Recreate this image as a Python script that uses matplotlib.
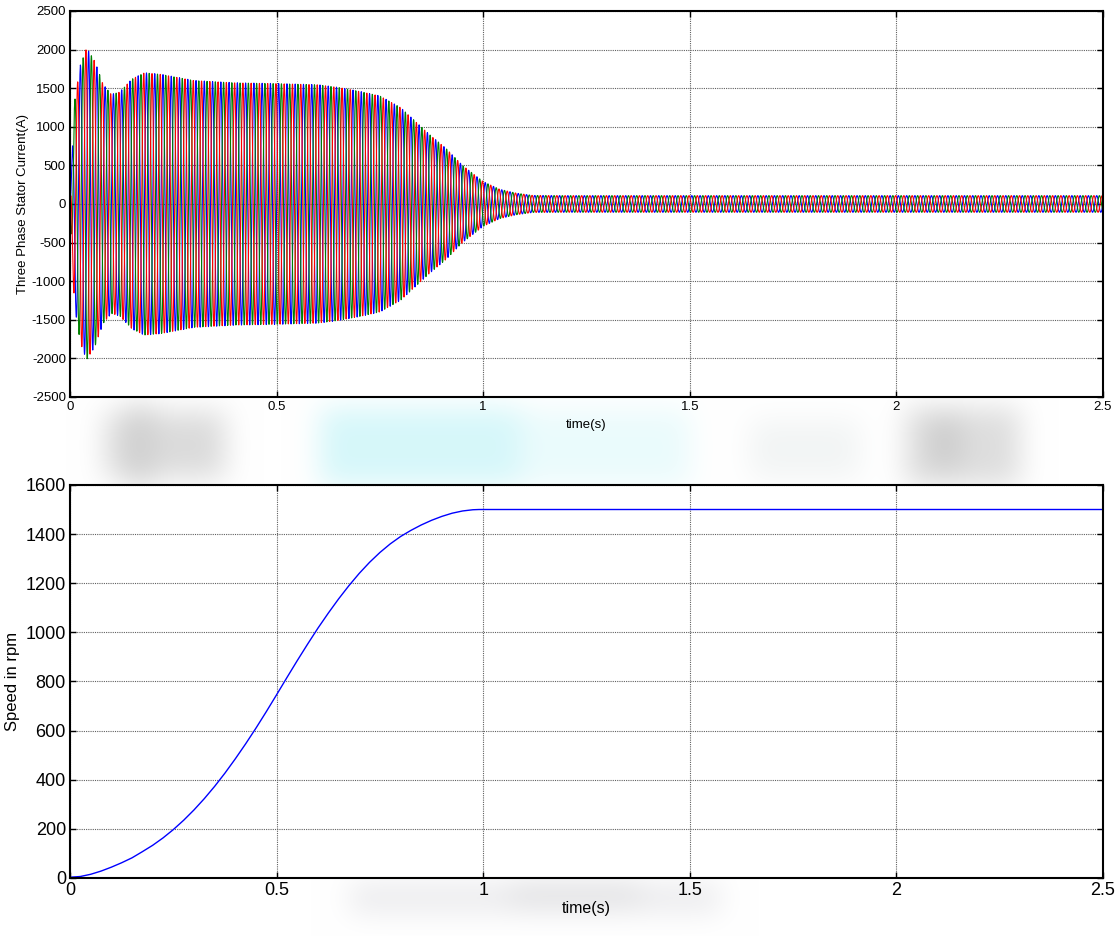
import numpy as np
import matplotlib.pyplot as plt

# stator current envelope (peak amplitude, A) vs time (s)
env_t = [0, 0.01, 0.025, 0.04, 0.06, 0.08, 0.1, 0.12, 0.15, 0.18, 0.22, 0.26,
         0.3, 0.4, 0.5, 0.6, 0.65, 0.7, 0.75, 0.8, 0.83, 0.87, 0.91, 0.95,
         1.0, 1.04, 1.08, 1.12, 1.2, 2.5]
env_amp = [0, 1300, 1800, 2020, 1850, 1550, 1420, 1450, 1620, 1700, 1680, 1640,
           1600, 1570, 1560, 1545, 1510, 1460, 1400, 1250, 1100, 900, 720, 500,
           290, 190, 140, 110, 108, 108]
f_supply = 50.0
phase_colors = ['#0000ff', '#008000', '#ff0000']
phase_shift = [0.0, -2 * np.pi / 3, 2 * np.pi / 3]

# rotor speed (rpm) vs time (s)
speed_t = [0, 0.025, 0.05, 0.075, 0.1, 0.125, 0.15, 0.175, 0.2, 0.225, 0.25,
           0.275, 0.3, 0.325, 0.35, 0.375, 0.4, 0.425, 0.45, 0.475, 0.5,
           0.525, 0.55, 0.575, 0.6, 0.625, 0.65, 0.675, 0.7, 0.725, 0.75,
           0.775, 0.8, 0.825, 0.85, 0.875, 0.9, 0.925, 0.95, 0.975, 0.99, 2.5]
speed_rpm = [3, 6, 15, 28, 44, 62, 82, 107, 133, 163, 197,
             235, 277, 323, 373, 427, 485, 546, 610, 677, 746,
             816, 885, 952, 1017, 1078, 1136, 1190, 1240, 1285, 1325,
             1360, 1390, 1415, 1437, 1456, 1472, 1485, 1494, 1499, 1500, 1500]

x_ticks = [0, 0.5, 1, 1.5, 2, 2.5]
x_ticklabels = ['0', '0.5', '1', '1.5', '2', '2.5']

# faint backdrop smears: x0, x1, y0, y1 (figure px from top), rgb
smears = [
    (105, 225, 412, 478, (0.86, 0.86, 0.86)),
    (130, 150, 405, 485, (0.80, 0.80, 0.80)),
    (320, 520, 408, 485, (0.84, 0.97, 0.98)),
    (520, 690, 410, 485, (0.92, 0.985, 0.99)),
    (750, 860, 420, 478, (0.95, 0.96, 0.96)),
    (905, 1020, 408, 485, (0.87, 0.87, 0.87)),
    (930, 960, 415, 470, (0.80, 0.80, 0.80)),
    (350, 720, 884, 912, (0.92, 0.92, 0.93)),
    (510, 640, 884, 902, (0.86, 0.86, 0.87)),
]

plt.rcParams['font.family'] = ['Liberation Sans', 'DejaVu Sans']
plt.rcParams['axes.unicode_minus'] = False

W, H = 1119, 936
fig = plt.figure(figsize=(W / 100, H / 100), dpi=100)

# blurred backdrop behind the axes (blur the darkness so edges stay white)
dark = np.zeros((H, W, 3))
for x0, x1, y0, y1, rgb in smears:
    dark[y0:y1, x0:x1] = np.maximum(dark[y0:y1, x0:x1], 1 - np.array(rgb))
k = np.ones(27) / 27
for _ in range(3):
    dark = np.apply_along_axis(lambda v: np.convolve(v, k, mode='same'), 1, dark)
    dark = np.apply_along_axis(lambda v: np.convolve(v, k, mode='same'), 0, dark)
bg = np.clip(1 - dark, 0, 1)
axbg = fig.add_axes([0, 0, 1, 1], zorder=-1)
axbg.imshow(bg, aspect='auto', extent=(0, W, H, 0))
axbg.axis('off')

ax1 = fig.add_axes([0.0626, 0.5759, 0.923, 0.4124])
ax2 = fig.add_axes([0.0626, 0.0620, 0.923, 0.4199])

t = np.arange(0, 2.5, 5e-4)
amp = np.interp(t, env_t, env_amp)
for c, ph in zip(phase_colors, phase_shift):
    ax1.plot(t, amp * np.sin(2 * np.pi * f_supply * t + ph), color=c, lw=0.8)

ax2.plot(speed_t, speed_rpm, color='#0000ff', lw=1.0)


def style(ax, fs):
    ax.set_xlim(0, 2.5)
    ax.set_xticks(x_ticks)
    ax.set_xticklabels(x_ticklabels)
    ax.grid(True, color='#606060', linestyle=(0, (1, 1)), lw=0.8)
    ax.set_axisbelow(True)
    ax.tick_params(direction='in', top=True, right=True, length=4,
                   width=1, labelsize=fs, pad=3)
    for s in ax.spines.values():
        s.set_linewidth(1.5)


style(ax1, 9.5)
ax1.set_ylim(-2500, 2500)
ax1.set_yticks(np.arange(-2500, 2501, 500))
ax1.set_ylabel('Three Phase Stator Current(A)', fontsize=9.5, labelpad=2)
ax1.set_xlabel('time(s)', fontsize=9.5, labelpad=4)

style(ax2, 13)
ax2.set_ylim(0, 1600)
ax2.set_yticks(np.arange(0, 1601, 200))
ax2.set_ylabel('Speed in rpm', fontsize=12, labelpad=4)
ax2.set_xlabel('time(s)', fontsize=11.5, labelpad=1)

fig.savefig('out.png', dpi=100)
